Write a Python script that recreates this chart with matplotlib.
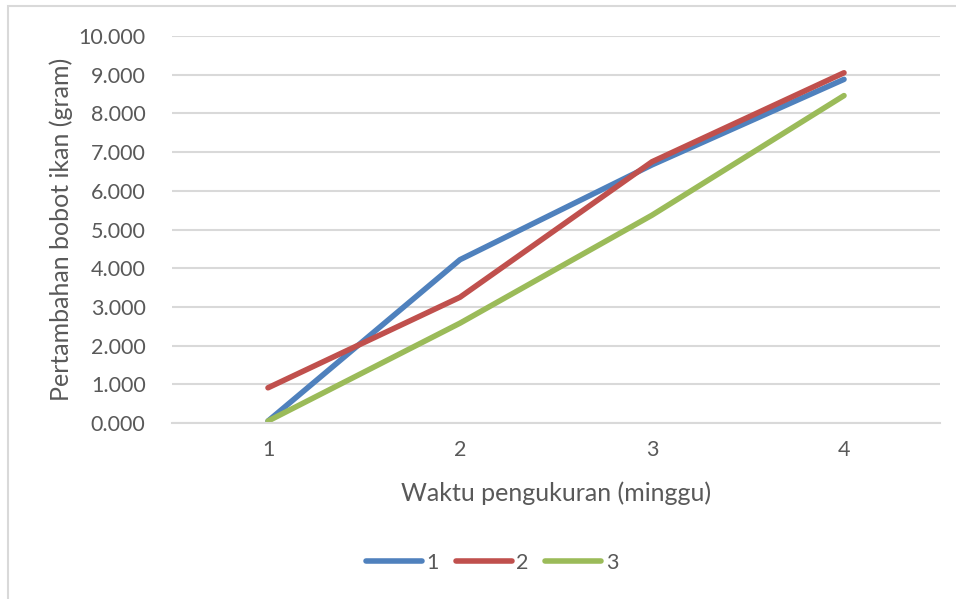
import matplotlib
matplotlib.use("Agg")
import matplotlib.pyplot as plt
from matplotlib.patches import Rectangle
from matplotlib.ticker import FuncFormatter

weeks = ["1", "2", "3", "4"]
series_names = ["1", "2", "3"]
s1 = [0.05, 4.22, 6.67, 8.88]
s2 = [0.91, 3.25, 6.75, 9.05]
s3 = [0.05, 2.58, 5.37, 8.46]
colors = ["#4F81BD", "#C0504D", "#9BBB59"]

plt.rcParams["font.family"] = ["Lato", "DejaVu Sans"]
W, H = 956, 599
fig = plt.figure(figsize=(W / 100, H / 100), dpi=100)
# axes: left 172, right 940, top 36, bottom 423
ax = fig.add_axes([172 / W, 1 - 423 / H, (940 - 172) / W, (423 - 36) / H])

x = list(range(len(weeks)))
for vals, c, n in zip([s1, s2, s3], colors, series_names):
    ax.plot(x, vals, color=c, lw=4, solid_capstyle="round", solid_joinstyle="round", label=n)

ax.set_xlim(-0.5, len(weeks) - 0.5)
ax.set_ylim(0, 10)
ax.set_yticks(range(0, 11))
ax.yaxis.set_major_formatter(FuncFormatter(lambda v, p: f"{v:.3f}"))
ax.set_xticks(x)
ax.set_xticklabels(weeks)
ax.grid(axis="y", color="#D9D9D9", lw=1.5)
ax.set_axisbelow(True)
for s in ["top", "right", "left"]:
    ax.spines[s].set_visible(False)
ax.spines["bottom"].set_color("#D9D9D9")
ax.spines["bottom"].set_linewidth(1.5)
ax.tick_params(length=0, labelsize=15.5, colors="#595959", pad=12)
ax.tick_params(axis="y", pad=19)
ax.set_xlabel("Waktu pengukuran (minggu)", fontsize=18, color="#595959", labelpad=16)
ax.set_ylabel("Pertambahan bobot ikan (gram)", fontsize=18, color="#595959", labelpad=4)

leg = fig.legend(loc="center", bbox_to_anchor=(492 / W, 1 - 563 / H), ncol=3, frameon=False,
                 fontsize=15.5, handlelength=2.6, handletextpad=0.2, columnspacing=0.8)
for t in leg.get_texts():
    t.set_color("#595959")

fig.patches.append(Rectangle((8 / W, -0.1), 1.2, (1 - 6 / H) + 0.1, transform=fig.transFigure,
                             fill=False, edgecolor="#D9D9D9", lw=1.5))
fig.savefig("out.png", dpi=100)
